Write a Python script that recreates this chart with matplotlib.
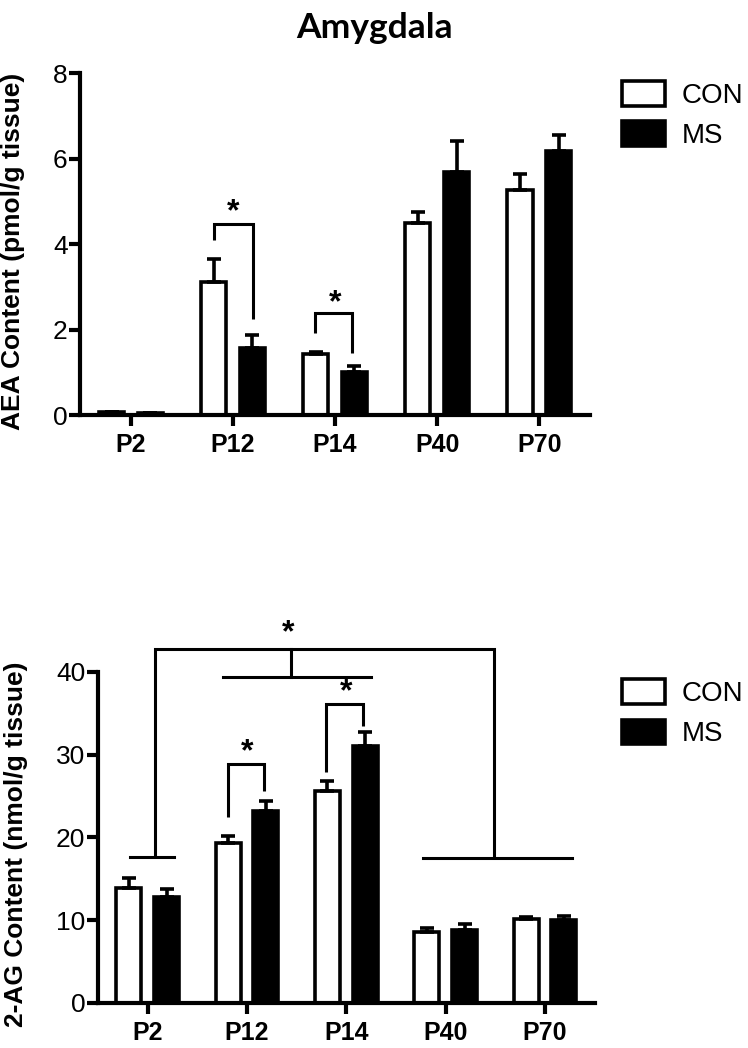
import numpy as np
import matplotlib
matplotlib.use("Agg")
import matplotlib.pyplot as plt

plt.rcParams['font.family'] = ['Liberation Sans', 'DejaVu Sans']

ages = ["P2", "P12", "P14", "P40", "P70"]
groups = ["CON", "MS"]

# AEA (pmol/g tissue)
aea_con = [0.07, 3.11, 1.42, 4.49, 5.27]
aea_con_sem = [0.0, 0.54, 0.06, 0.27, 0.38]
aea_ms = [0.05, 1.57, 1.00, 5.70, 6.18]
aea_ms_sem = [0.0, 0.30, 0.15, 0.72, 0.37]

# 2-AG (nmol/g tissue)
ag_con = [13.9, 19.3, 25.6, 8.6, 10.1]
ag_con_sem = [1.2, 0.9, 1.2, 0.5, 0.3]
ag_ms = [12.8, 23.2, 31.0, 8.8, 10.0]
ag_ms_sem = [1.0, 1.2, 1.7, 0.7, 0.5]

W = 0.25
OFF = 0.19
LW = 2.6


def draw_bars(ax, con, con_sem, ms, ms_sem):
    x = np.arange(len(ages))
    ekw = dict(ecolor='black', elinewidth=LW, capsize=5, capthick=LW)
    ax.bar(x - OFF, con, W, color='white', edgecolor='black', linewidth=LW,
           yerr=[np.zeros(len(con)), con_sem], error_kw=ekw, label=groups[0], zorder=3)
    ax.bar(x + OFF, ms, W, color='black', edgecolor='black', linewidth=LW,
           yerr=[np.zeros(len(ms)), ms_sem], error_kw=ekw, label=groups[1], zorder=3)
    ax.set_xticks(x)
    ax.set_xticklabels(ages, fontsize=18, fontweight='bold')
    ax.set_xlim(-0.5, 4.5)
    for s in ['top', 'right']:
        ax.spines[s].set_visible(False)
    for s in ['left', 'bottom']:
        ax.spines[s].set_linewidth(3)
        ax.spines[s].set_zorder(5)
    ax.tick_params(axis='x', length=8, width=3, pad=5)
    ax.tick_params(axis='y', length=8, width=3, pad=1, labelsize=19)


def bracket(ax, x1, x2, y1, y2, top, lw=2.2):
    ax.plot([x1, x1, x2, x2], [y1, top, top, y2], color='black', lw=lw,
            clip_on=False, solid_capstyle='butt', solid_joinstyle='miter', zorder=4)


def star(ax, x, y):
    ax.text(x, y, "*", ha='center', va='center', fontsize=23, fontweight='bold',
            clip_on=False)


def add_legend(ax, y_top):
    ax.legend(loc='upper left', bbox_to_anchor=(0.832, y_top), bbox_transform=fig.transFigure,
              frameon=False, fontsize=20, handlelength=1.55, handleheight=1.0,
              labelspacing=0.45, handletextpad=0.6, borderpad=0, borderaxespad=0)


fig = plt.figure(figsize=(7.48, 10.48), dpi=100)

# ---- AEA panel
ax1 = fig.add_axes([0.107, 0.604, 0.682, 0.326])
draw_bars(ax1, aea_con, aea_con_sem, aea_ms, aea_ms_sem)
ax1.set_ylim(0, 8)
ax1.set_yticks([0, 2, 4, 6, 8])
ax1.set_ylabel("AEA Content (pmol/g tissue)", fontsize=19, fontweight='bold')
ax1.yaxis.set_label_coords(-0.108, 0.48)
bracket(ax1, 0.81, 1.2, 4.09, 2.25, 4.47)
star(ax1, 1.0, 4.75)
bracket(ax1, 1.80, 2.17, 1.92, 1.45, 2.39)
star(ax1, 2.0, 2.62)
add_legend(ax1, 0.923)

# ---- 2-AG panel
ax2 = fig.add_axes([0.131, 0.043, 0.664, 0.316])
draw_bars(ax2, ag_con, ag_con_sem, ag_ms, ag_ms_sem)
ax2.set_ylim(0, 40)
ax2.set_yticks([0, 10, 20, 30, 40])
ax2.set_ylabel("2-AG Content (nmol/g tissue)", fontsize=19, fontweight='bold')
ax2.yaxis.set_label_coords(-0.14, 0.48)
bracket(ax2, 0.81, 1.17, 22.4, 25.6, 28.9)
star(ax2, 1.0, 30.3)
bracket(ax2, 1.80, 2.17, 27.9, 33.4, 36.1)
star(ax2, 2.0, 37.5)
# grouped comparison: P2 vs P12/P14 vs P40/P70
ax2.plot([-0.18, 0.27], [17.6, 17.6], color='black', lw=2.2, clip_on=False)
ax2.plot([0.76, 2.25], [39.4, 39.4], color='black', lw=2.2, clip_on=False)
ax2.plot([2.77, 4.27], [17.5, 17.5], color='black', lw=2.2, clip_on=False)
ax2.plot([1.44, 1.44], [39.4, 42.7], color='black', lw=2.2, clip_on=False)
bracket(ax2, 0.07, 3.49, 17.6, 17.5, 42.7)
star(ax2, 1.41, 44.6)
add_legend(ax2, 0.352)

fig.text(0.501, 0.973, "Amygdala", ha='center', va='center', fontsize=25.5,
         fontweight='bold', family=['Lato', 'DejaVu Sans'])

fig.savefig("out.png", dpi=100)
